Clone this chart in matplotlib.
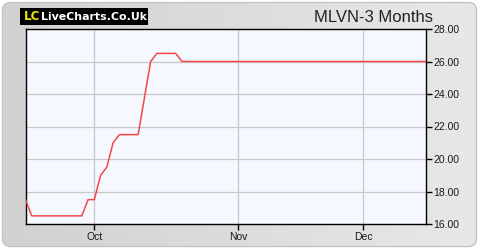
import numpy as np
import pandas as pd
import matplotlib
matplotlib.use("Agg")
import matplotlib.pyplot as plt
from matplotlib.patches import FancyBboxPatch, Rectangle

# ---- data ----
dates = pd.bdate_range("2025-09-16", "2025-12-15")
prices = ([17.5] + [16.5] * 9 + [17.5, 17.5, 19.0, 19.5, 21.0] + [21.5] * 4 +
          [23.75, 26.0] + [26.5] * 4 + [26.0] * 40)
month_labels = ["Oct", "Nov", "Dec"]
month_starts = ["2025-10-01", "2025-11-03", "2025-12-01"]
yticks = [16, 18, 20, 22, 24, 26, 28]
title = "MLVN-3 Months"

x = np.arange(len(dates))
tick_pos = [int(dates.get_indexer([pd.Timestamp(d)])[0]) for d in month_starts]

fig = plt.figure(figsize=(4.8, 2.5), dpi=100)
fig.patch.set_facecolor("white")

# background panel with gradient
bg = fig.add_axes([0, 0, 1, 1])
bg.set_xlim(0, 480)
bg.set_ylim(250, 0)
bg.axis("off")
grad = np.linspace(0, 1, 256).reshape(1, -1)
c0 = np.array([0.82, 0.82, 0.82])
c1 = np.array([0.91, 0.91, 0.91])
img = c0[None, None, :] * (1 - grad[..., None]) + c1[None, None, :] * grad[..., None]
im = bg.imshow(img, extent=[2, 477, 247, 2], aspect="auto", zorder=0)
panel = FancyBboxPatch((2.5, 2.5), 474, 244, boxstyle="round,pad=0,rounding_size=8",
                       facecolor="none", edgecolor="#c4c4c4", lw=1, zorder=1)
bg.add_patch(panel)
im.set_clip_path(panel)

# logo
bg.add_patch(Rectangle((20, 8), 128, 17, facecolor="black", edgecolor="none", zorder=2))
bg.text(24, 16.8, "LC", color="#e8e800", fontsize=8.6, fontweight="bold",
        family="DejaVu Sans", va="center", ha="left", zorder=3)
bg.text(41.5, 16.8, "LiveCharts.Co.Uk", color="white", fontsize=7.9, fontweight="bold",
        family="DejaVu Sans", va="center", ha="left", zorder=3)
bg.text(433, 17, title, color="#222222", fontsize=12, family="Liberation Sans",
        va="center", ha="right", zorder=3)

# main axes
ax = fig.add_axes([25.5 / 480, (250 - 224) / 250, (426 - 25.5) / 480, (224 - 29) / 250])
ax.set_facecolor("#f6f8ff")
ax.plot(x, prices, color="#f24848", lw=1.1, zorder=3)
ax.set_xlim(0, len(x) - 1)
ax.set_ylim(16, 28)
ax.set_yticks(yticks)
ax.set_yticklabels([f"{v:.2f}" for v in yticks])
ax.set_xticks(tick_pos)
ax.set_xticklabels(month_labels)
ax.yaxis.tick_right()
ax.grid(True, color="#c8c8c8", lw=0.9)
ax.set_axisbelow(True)
for s in ax.spines.values():
    s.set_color("black")
    s.set_linewidth(1)
ax.tick_params(axis="both", length=4, width=1, color="black", labelsize=7.5,
               labelcolor="#1a1a1a", pad=1.5)
for lab in ax.get_xticklabels() + ax.get_yticklabels():
    lab.set_family("Liberation Sans")

fig.savefig("out.png", dpi=100, facecolor="white")
